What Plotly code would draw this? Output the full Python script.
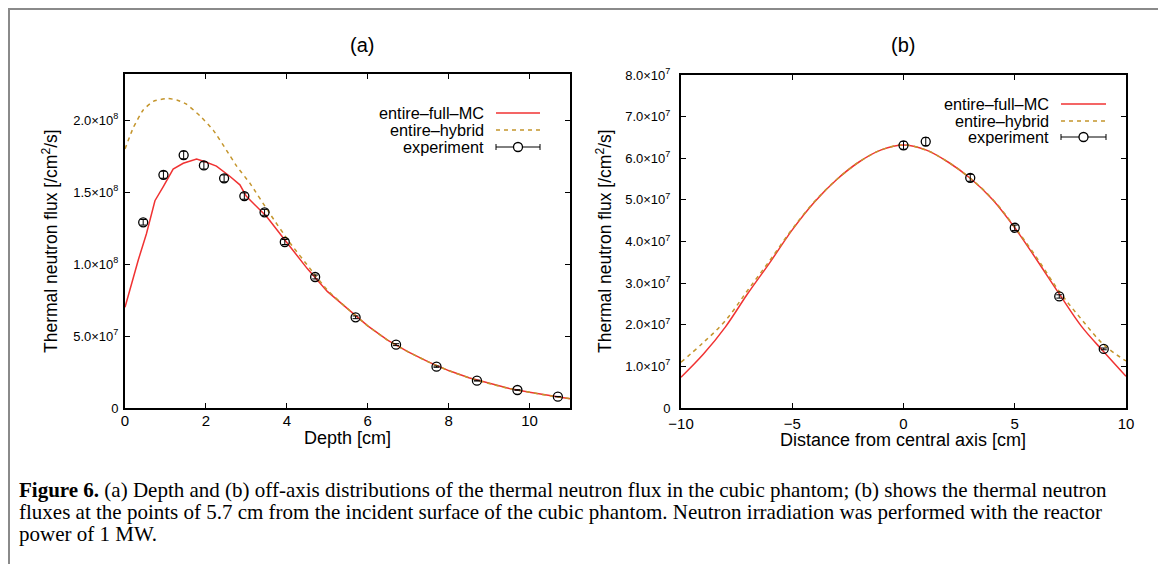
import plotly.graph_objects as go

# page body has an 8px margin -> figure is placed at (8, 8) in the window
OX, OY = 8, 8
W, H = 1166 - OX, 564 - OY

# ---------------- data: panel (a) depth distribution ----------------
depth_mc = [0, 0.33, 0.53, 0.74, 0.95, 1.19, 1.44, 1.77, 1.98, 2.26, 2.59, 2.84, 3.0, 3.5, 4.0,
            4.5, 5.0, 5.5, 6.0, 6.5, 7.0, 7.5, 8.0, 8.5, 9.0, 9.5, 10.0, 10.5, 11.0]
flux_mc = [0.70, 1.03, 1.21, 1.44, 1.54, 1.66, 1.70, 1.73, 1.71, 1.68, 1.61, 1.55, 1.47, 1.33, 1.15,
           0.97, 0.81, 0.69, 0.57, 0.47, 0.39, 0.32, 0.26, 0.21, 0.17, 0.135, 0.11, 0.085, 0.065]

depth_hyb = [0, 0.21, 0.45, 0.70, 1.03, 1.28, 1.52, 1.85, 2.18, 2.51, 2.76, 3.09, 3.58, 4.07, 4.57,
             5.0, 5.5, 6.0, 6.5, 7.0, 7.5, 8.0, 8.5, 9.0, 9.5, 10.0, 10.5, 11.0]
flux_hyb = [1.80, 1.95, 2.07, 2.13, 2.15, 2.14, 2.11, 2.03, 1.93, 1.79, 1.68, 1.56, 1.35, 1.15, 0.97,
            0.82, 0.69, 0.57, 0.47, 0.39, 0.32, 0.26, 0.21, 0.17, 0.135, 0.11, 0.085, 0.065]

depth_exp = [0.45, 0.95, 1.45, 1.95, 2.45, 2.95, 3.45, 3.95, 4.7, 5.7, 6.7, 7.7, 8.7, 9.7, 10.7]
flux_exp = [1.29, 1.62, 1.757, 1.685, 1.595, 1.472, 1.359, 1.153, 0.91, 0.63, 0.44, 0.287, 0.19, 0.125, 0.079]
SCALE_A = 1e8

# ---------------- data: panel (b) off-axis distribution ----------------
dist = [-10, -9, -8, -7, -6, -5, -4, -3, -2, -1, 0, 1, 2, 3, 4, 5, 6, 7, 8, 9, 10]
off_mc = [0.74, 1.29, 1.95, 2.75, 3.50, 4.28, 4.95, 5.49, 5.91, 6.20, 6.32,
          6.20, 5.91, 5.52, 5.01, 4.33, 3.55, 2.74, 1.96, 1.35, 0.76]
off_hyb = [1.10, 1.57, 2.10, 2.83, 3.55, 4.30, 4.96, 5.49, 5.91, 6.20, 6.32,
           6.20, 5.91, 5.52, 5.02, 4.35, 3.60, 2.80, 2.13, 1.52, 1.13]
dist_exp = [0, 1, 3, 5, 7, 9]
off_exp = [6.31, 6.40, 5.53, 4.33, 2.68, 1.42]
SCALE_B = 1e7

# ticks
ya_vals = [0, 0.5e8, 1.0e8, 1.5e8, 2.0e8]
ya_text = ["0", "5.0×10<sup>7</sup>", "1.0×10<sup>8</sup>", "1.5×10<sup>8</sup>", "2.0×10<sup>8</sup>"]
yb_vals = [i * 1e7 for i in range(9)]
yb_text = ["0"] + ["%d.0×10<sup>7</sup>" % i for i in range(1, 9)]
xb_vals = [-10, -5, 0, 5, 10]
xb_text = ["−10", "−5", "0", "5", "10"]

RED = "#f03232"
GOLD = "#c4952c"
SANS = "Liberation Sans, Arial, sans-serif"
SERIF = "Liberation Serif, Times New Roman, serif"

fig = go.Figure()

# panel (a)
fig.add_trace(go.Scatter(x=depth_mc, y=[v * SCALE_A for v in flux_mc], mode="lines",
                         line=dict(color=RED, width=1.5), xaxis="x", yaxis="y", name="entire–full–MC"))
fig.add_trace(go.Scatter(x=depth_hyb, y=[v * SCALE_A for v in flux_hyb], mode="lines",
                         line=dict(color=GOLD, width=1.5, dash="4px,4px", shape="spline", smoothing=0.5),
                         xaxis="x", yaxis="y", name="entire–hybrid"))
fig.add_trace(go.Scatter(x=depth_exp, y=[v * SCALE_A for v in flux_exp], mode="markers",
                         marker=dict(symbol="circle-open", size=9, color="black", line=dict(width=1.3)),
                         error_y=dict(type="percent", value=1.5, color="black", thickness=1, width=3),
                         xaxis="x", yaxis="y", name="experiment"))

# panel (b)
fig.add_trace(go.Scatter(x=dist, y=[v * SCALE_B for v in off_mc], mode="lines",
                         line=dict(color=RED, width=1.5, shape="spline", smoothing=1.0),
                         xaxis="x2", yaxis="y2", name="entire–full–MC"))
fig.add_trace(go.Scatter(x=dist, y=[v * SCALE_B for v in off_hyb], mode="lines",
                         line=dict(color=GOLD, width=1.5, dash="4px,4px", shape="spline", smoothing=1.0),
                         xaxis="x2", yaxis="y2", name="entire–hybrid"))
fig.add_trace(go.Scatter(x=dist_exp, y=[v * SCALE_B for v in off_exp], mode="markers",
                         marker=dict(symbol="circle-open", size=9, color="black", line=dict(width=1.3)),
                         error_y=dict(type="percent", value=1.5, color="black", thickness=1, width=3),
                         xaxis="x2", yaxis="y2", name="experiment"))


def px(x):
    return (x - OX) / W


def py(y):
    return 1 - (y - OY) / H


axis_common = dict(showgrid=False, zeroline=False, showline=True, linecolor="black", linewidth=2,
                   mirror="ticks", ticks="inside", ticklen=5, tickwidth=1, tickcolor="black",
                   automargin=False)
xfont = dict(family=SANS, size=15, color="black")
yfont = dict(family=SANS, size=13, color="black")

fig.update_layout(
    template="none",
    width=W, height=H, margin=dict(l=0, r=0, t=0, b=0, pad=0, autoexpand=False),
    paper_bgcolor="white", plot_bgcolor="white", showlegend=False,
    xaxis=dict(domain=[px(125), px(570)], range=[0, 11], tickvals=[0, 2, 4, 6, 8, 10],
               anchor="y", tickfont=xfont, ticklabelstandoff=-2, **axis_common),
    yaxis=dict(domain=[py(408), py(74)], range=[0, 2.32e8], tickvals=ya_vals, ticktext=ya_text,
               anchor="x", tickfont=yfont, ticklabelstandoff=2, **axis_common),
    xaxis2=dict(domain=[px(681), px(1126)], range=[-10, 10], tickvals=xb_vals, ticktext=xb_text,
                anchor="y2", tickfont=xfont, ticklabelstandoff=1, **axis_common),
    yaxis2=dict(domain=[py(408), py(75)], range=[0, 8e7], tickvals=yb_vals, ticktext=yb_text,
                anchor="x2", tickfont=yfont, ticklabelstandoff=6, **axis_common),
)

ann = []


def text(x, y, s, size, family=SANS, xanchor="center", angle=0):
    ann.append(dict(x=px(x), y=py(y), xref="paper", yref="paper", text=s, showarrow=False,
                    xanchor=xanchor, yanchor="middle", textangle=angle,
                    font=dict(family=family, size=size, color="black")))


text(362, 45, "(a)", 20)
text(903, 45, "(b)", 20)
text(347, 438, "Depth [cm]", 18)
text(903, 440, "Distance from central axis [cm]", 18)
text(50, 241, "Thermal neutron flux [/cm<sup>2</sup>/s]", 17.5, angle=-90)
text(604, 241, "Thermal neutron flux [/cm<sup>2</sup>/s]", 17.5, angle=-90)

shapes = []

# legends (custom, gnuplot style)
for (xr, l0, l1, ys) in [(486, 496, 540, [113, 130, 147]), (1051, 1061, 1106, [104, 121, 137])]:
    text(xr, ys[0], "entire–full–MC", 16.3, xanchor="right")
    text(xr, ys[1], "entire–hybrid", 16.3, xanchor="right")
    text(xr, ys[2], "experiment", 16.3, xanchor="right")
    shapes.append(dict(type="line", xref="paper", yref="paper", x0=px(l0), x1=px(l1), y0=py(ys[0]),
                       y1=py(ys[0]), line=dict(color=RED, width=1.5)))
    shapes.append(dict(type="line", xref="paper", yref="paper", x0=px(l0), x1=px(l1), y0=py(ys[1]),
                       y1=py(ys[1]), line=dict(color=GOLD, width=1.5, dash="4px,4px")))
    shapes.append(dict(type="line", xref="paper", yref="paper", x0=px(l0), x1=px(l1), y0=py(ys[2]),
                       y1=py(ys[2]), line=dict(color="black", width=1)))
    for xc in (l0, l1):
        shapes.append(dict(type="line", xref="paper", yref="paper", x0=px(xc), x1=px(xc),
                           y0=py(ys[2] - 3), y1=py(ys[2] + 3), line=dict(color="black", width=1)))
    cx = (l0 + l1) / 2
    shapes.append(dict(type="circle", xref="paper", yref="paper", x0=px(cx - 4.5), x1=px(cx + 4.5),
                       y0=py(ys[2] + 4.5), y1=py(ys[2] - 4.5), line=dict(color="black", width=1.3),
                       fillcolor="white"))

# frame
shapes.append(dict(type="rect", xref="paper", yref="paper", x0=px(9), x1=px(1162.5), y0=py(575),
                   y1=py(9), line=dict(color="#8a8a8a", width=2), layer="below"))

# caption
CAP = 21
text(17, 490, "<b>Figure 6.</b> (a) Depth and (b) off-axis distributions of the thermal neutron flux in the "
     "cubic phantom; (b) shows the thermal neutron", CAP, family=SERIF, xanchor="left")
text(17, 512, "fluxes at the points of 5.7 cm from the incident surface of the cubic phantom. Neutron "
     "irradiation was performed with the reactor", CAP, family=SERIF, xanchor="left")
text(17, 534, "power of 1 MW.", CAP, family=SERIF, xanchor="left")

fig.update_layout(annotations=ann, shapes=shapes)
fig.write_html("out.html")
